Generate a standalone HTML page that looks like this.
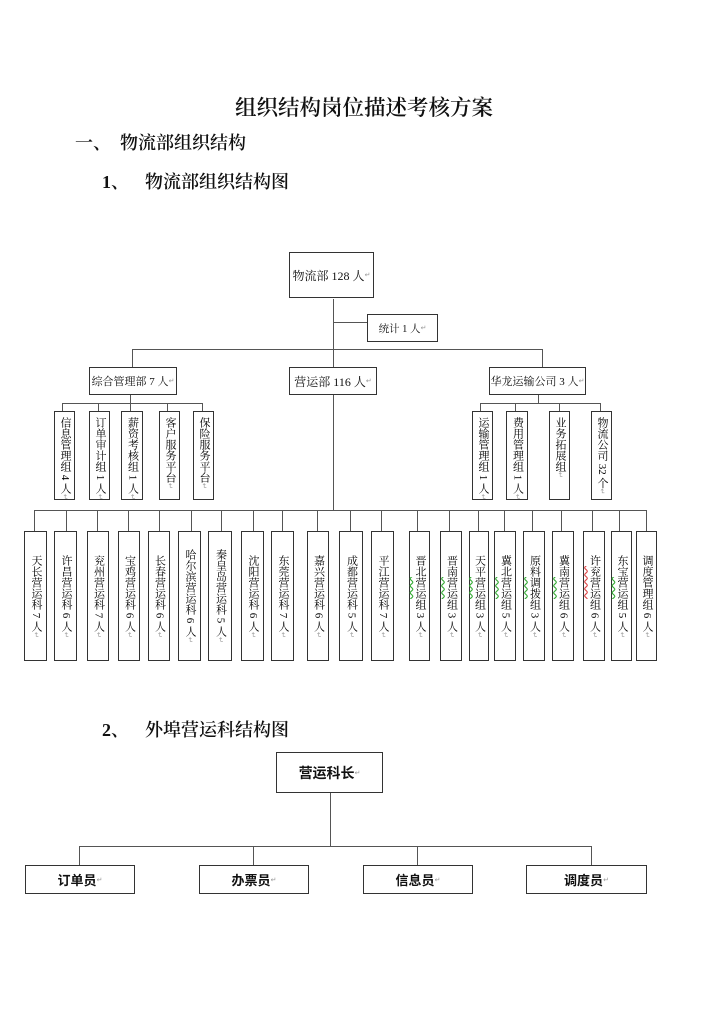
<!DOCTYPE html>
<html><head><meta charset="utf-8">
<style>
html,body{margin:0;padding:0;background:#fff;}
body{width:720px;height:1018px;position:relative;overflow:hidden;font-family:"Liberation Serif","Noto Serif CJK SC",serif;color:#111;}
.a{position:absolute;}
.l{position:absolute;background:#555;}
.hb{position:absolute;border:1px solid #333;box-sizing:border-box;display:flex;align-items:center;justify-content:center;font-size:11px;white-space:nowrap;}
.vb{position:absolute;border:1px solid #333;box-sizing:border-box;display:flex;justify-content:center;}
.top{top:411px;height:89px;align-items:flex-start;padding-top:5px;}
.bot{top:531px;height:130px;align-items:center;}
.vt{writing-mode:vertical-rl;font-size:11px;line-height:1;white-space:nowrap;color:#000;}
.r{font-size:7px;color:#999;font-family:"DejaVu Sans",sans-serif;}
.g{text-decoration:underline wavy #3a3;text-underline-position:left;}
.rd{text-decoration:underline wavy #d44;text-underline-position:left;}
.sb{position:absolute;border:1px solid #333;box-sizing:border-box;display:flex;align-items:center;justify-content:center;font-family:"Liberation Sans","Noto Sans CJK SC",sans-serif;font-weight:bold;white-space:nowrap;}
.h{position:absolute;font-size:18px;line-height:24px;white-space:nowrap;font-weight:600;}
</style></head><body>

<div class="a" style="left:235px;top:93px;font-size:21.5px;line-height:30px;white-space:nowrap;font-weight:600;">组织结构岗位描述考核方案</div>
<div class="h" style="left:75px;top:131px;">一、</div>
<div class="h" style="left:120px;top:131px;">物流部组织结构</div>
<div class="h" style="left:102px;top:170px;">1、</div>
<div class="h" style="left:145px;top:170px;">物流部组织结构图</div>

<!-- chart 1 lines -->
<div class="l" style="left:333px;top:299px;width:1px;height:68px;"></div>
<div class="l" style="left:333px;top:322px;width:34px;height:1px;"></div>
<div class="l" style="left:132px;top:349px;width:411px;height:1px;"></div>
<div class="l" style="left:132px;top:349px;width:1px;height:18px;"></div>
<div class="l" style="left:542px;top:349px;width:1px;height:18px;"></div>
<div class="l" style="left:333px;top:394px;width:1px;height:116px;"></div>

<div class="l" style="left:130px;top:394px;width:1px;height:9px;"></div>
<div class="l" style="left:62px;top:403px;width:141px;height:1px;"></div>
<div class="l" style="left:62px;top:403px;width:1px;height:8px;"></div>
<div class="l" style="left:98px;top:403px;width:1px;height:8px;"></div>
<div class="l" style="left:130px;top:403px;width:1px;height:8px;"></div>
<div class="l" style="left:167px;top:403px;width:1px;height:8px;"></div>
<div class="l" style="left:202px;top:403px;width:1px;height:8px;"></div>

<div class="l" style="left:538px;top:394px;width:1px;height:9px;"></div>
<div class="l" style="left:480px;top:403px;width:121px;height:1px;"></div>
<div class="l" style="left:480px;top:403px;width:1px;height:8px;"></div>
<div class="l" style="left:515px;top:403px;width:1px;height:8px;"></div>
<div class="l" style="left:559px;top:403px;width:1px;height:8px;"></div>
<div class="l" style="left:600px;top:403px;width:1px;height:8px;"></div>

<div class="l" style="left:34px;top:510px;width:613px;height:1px;"></div>
<div class="l" style="left:34px;top:510px;width:1px;height:21px;"></div>
<div class="l" style="left:66px;top:510px;width:1px;height:21px;"></div>
<div class="l" style="left:97px;top:510px;width:1px;height:21px;"></div>
<div class="l" style="left:128px;top:510px;width:1px;height:21px;"></div>
<div class="l" style="left:159px;top:510px;width:1px;height:21px;"></div>
<div class="l" style="left:191px;top:510px;width:1px;height:21px;"></div>
<div class="l" style="left:221px;top:510px;width:1px;height:21px;"></div>
<div class="l" style="left:253px;top:510px;width:1px;height:21px;"></div>
<div class="l" style="left:282px;top:510px;width:1px;height:21px;"></div>
<div class="l" style="left:317px;top:510px;width:1px;height:21px;"></div>
<div class="l" style="left:350px;top:510px;width:1px;height:21px;"></div>
<div class="l" style="left:381px;top:510px;width:1px;height:21px;"></div>
<div class="l" style="left:417px;top:510px;width:1px;height:21px;"></div>
<div class="l" style="left:449px;top:510px;width:1px;height:21px;"></div>
<div class="l" style="left:478px;top:510px;width:1px;height:21px;"></div>
<div class="l" style="left:504px;top:510px;width:1px;height:21px;"></div>
<div class="l" style="left:532px;top:510px;width:1px;height:21px;"></div>
<div class="l" style="left:561px;top:510px;width:1px;height:21px;"></div>
<div class="l" style="left:592px;top:510px;width:1px;height:21px;"></div>
<div class="l" style="left:619px;top:510px;width:1px;height:21px;"></div>
<div class="l" style="left:646px;top:510px;width:1px;height:21px;"></div>

<!-- chart 1 horizontal boxes -->
<div class="hb" style="left:289px;top:252px;width:85px;height:46px;font-size:12px;">物流部 128 人<span class="r">↵</span></div>
<div class="hb" style="left:367px;top:314px;width:71px;height:28px;font-size:10.5px;">统计 1 人<span class="r">↵</span></div>
<div class="hb" style="left:89px;top:367px;width:88px;height:28px;">综合管理部 7 人<span class="r">↵</span></div>
<div class="hb" style="left:289px;top:367px;width:88px;height:28px;font-size:12px;">营运部 116 人<span class="r">↵</span></div>
<div class="hb" style="left:489px;top:367px;width:97px;height:28px;">华龙运输公司 3 人<span class="r">↵</span></div>

<!-- top small vertical boxes -->
<div class="vb top" style="left:54px;width:21px;"><div class="vt">信息管理组 4 人<span class="r">↵</span></div></div>
<div class="vb top" style="left:89px;width:21px;"><div class="vt">订单审计组 1 人<span class="r">↵</span></div></div>
<div class="vb top" style="left:121px;width:22px;"><div class="vt">薪资考核组 1 人<span class="r">↵</span></div></div>
<div class="vb top" style="left:159px;width:21px;"><div class="vt">客户服务平台<span class="r">↵</span></div></div>
<div class="vb top" style="left:193px;width:21px;"><div class="vt">保险服务平台<span class="r">↵</span></div></div>

<div class="vb top" style="left:472px;width:21px;"><div class="vt">运输管理组 1 人<span class="r">↵</span></div></div>
<div class="vb top" style="left:506px;width:22px;"><div class="vt">费用管理组 1 人<span class="r">↵</span></div></div>
<div class="vb top" style="left:549px;width:21px;"><div class="vt">业务拓展组<span class="r">↵</span></div></div>
<div class="vb top" style="left:591px;width:21px;"><div class="vt">物流公司 32 个<span class="r">↵</span></div></div>

<!-- bottom vertical boxes -->
<div class="vb bot" style="left:24px;width:23px;"><div class="vt">天长营运科 7 人<span class="r">↵</span></div></div>
<div class="vb bot" style="left:54px;width:23px;"><div class="vt">许昌营运科 6 人<span class="r">↵</span></div></div>
<div class="vb bot" style="left:87px;width:22px;"><div class="vt">兖州营运科 7 人<span class="r">↵</span></div></div>
<div class="vb bot" style="left:118px;width:22px;"><div class="vt">宝鸡营运科 6 人<span class="r">↵</span></div></div>
<div class="vb bot" style="left:148px;width:22px;"><div class="vt">长春营运科 6 人<span class="r">↵</span></div></div>
<div class="vb bot" style="left:178px;width:23px;"><div class="vt">哈尔滨营运科 6 人<span class="r">↵</span></div></div>
<div class="vb bot" style="left:208px;width:24px;"><div class="vt">秦皇岛营运科 5 人<span class="r">↵</span></div></div>
<div class="vb bot" style="left:241px;width:23px;"><div class="vt">沈阳营运科 6 人<span class="r">↵</span></div></div>
<div class="vb bot" style="left:271px;width:23px;"><div class="vt">东莞营运科 7 人<span class="r">↵</span></div></div>
<div class="vb bot" style="left:307px;width:22px;"><div class="vt">嘉兴营运科 6 人<span class="r">↵</span></div></div>
<div class="vb bot" style="left:339px;width:24px;"><div class="vt">成都营运科 5 人<span class="r">↵</span></div></div>
<div class="vb bot" style="left:371px;width:23px;"><div class="vt">平江营运科 7 人<span class="r">↵</span></div></div>
<div class="vb bot" style="left:409px;width:21px;"><div class="vt">晋北<span class="g">营运</span>组 3 人<span class="r">↵</span></div></div>
<div class="vb bot" style="left:440px;width:22px;"><div class="vt">晋南<span class="g">营运</span>组 3 人<span class="r">↵</span></div></div>
<div class="vb bot" style="left:469px;width:20px;"><div class="vt">天平<span class="g">营运</span>组 3 人<span class="r">↵</span></div></div>
<div class="vb bot" style="left:494px;width:22px;"><div class="vt">冀北<span class="g">营运</span>组 5 人<span class="r">↵</span></div></div>
<div class="vb bot" style="left:523px;width:22px;"><div class="vt">原料<span class="g">调拨</span>组 3 人<span class="r">↵</span></div></div>
<div class="vb bot" style="left:552px;width:22px;"><div class="vt">冀南<span class="g">营运</span>组 6 人<span class="r">↵</span></div></div>
<div class="vb bot" style="left:583px;width:22px;"><div class="vt">许<span class="rd">兖营运</span>组 6 人<span class="r">↵</span></div></div>
<div class="vb bot" style="left:611px;width:21px;"><div class="vt">东宝<span class="g">营运</span>组 5 人<span class="r">↵</span></div></div>
<div class="vb bot" style="left:636px;width:21px;"><div class="vt">调度管理组 6 人<span class="r">↵</span></div></div>

<!-- section 2 -->
<div class="h" style="left:102px;top:718px;">2、</div>
<div class="h" style="left:145px;top:718px;">外埠营运科结构图</div>

<div class="l" style="left:330px;top:792px;width:1px;height:54px;"></div>
<div class="l" style="left:79px;top:846px;width:513px;height:1px;"></div>
<div class="l" style="left:79px;top:846px;width:1px;height:19px;"></div>
<div class="l" style="left:253px;top:846px;width:1px;height:19px;"></div>
<div class="l" style="left:417px;top:846px;width:1px;height:19px;"></div>
<div class="l" style="left:591px;top:846px;width:1px;height:19px;"></div>

<div class="sb" style="left:276px;top:752px;width:107px;height:41px;font-size:14px;">营运科长<span class="r" style="font-weight:normal;">↵</span></div>
<div class="sb" style="left:25px;top:865px;width:110px;height:29px;font-size:13px;">订单员<span class="r" style="font-weight:normal;">↵</span></div>
<div class="sb" style="left:199px;top:865px;width:110px;height:29px;font-size:13px;">办票员<span class="r" style="font-weight:normal;">↵</span></div>
<div class="sb" style="left:363px;top:865px;width:110px;height:29px;font-size:13px;">信息员<span class="r" style="font-weight:normal;">↵</span></div>
<div class="sb" style="left:526px;top:865px;width:121px;height:29px;font-size:13px;">调度员<span class="r" style="font-weight:normal;">↵</span></div>

</body></html>
